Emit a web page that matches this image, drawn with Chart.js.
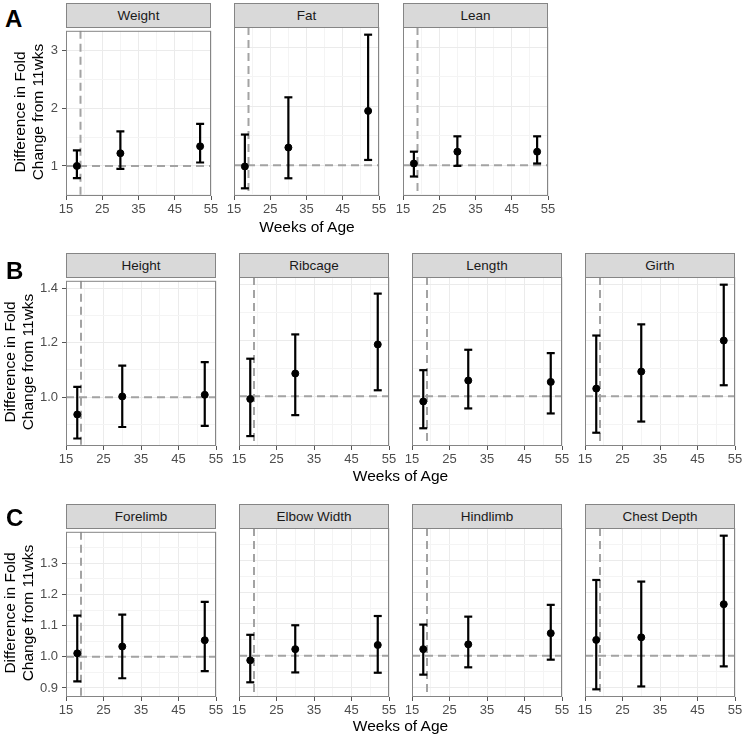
<!DOCTYPE html>
<html>
<head>
<meta charset="utf-8">
<script src="https://cdn.jsdelivr.net/npm/chart.js"></script>
<style>
body { margin: 0; background: #fff; font-family: "Liberation Sans", Arial, sans-serif; }
#wrap { position: relative; width: 744px; height: 739px; overflow: hidden; }
canvas, .strip, .lab, .ytitle, .xtitle { position: absolute; }
.strip { background: #d9d9d9; border: 1px solid #858585; box-sizing: border-box; font-size: 13.5px; color: #1a1a1a;
  display: flex; align-items: center; justify-content: center; }
.lab { font-weight: bold; font-size: 24px; line-height: 23px; color: #000; }
.xtitle { font-size: 15.5px; line-height: 18px; width: 200px; text-align: center; color: #000; }
.ytitle { font-size: 15.5px; line-height: 18px; width: 220px; text-align: center; color: #000;
  transform: translate(-50%, -50%) rotate(-90deg); }
</style>
</head>
<body>
<div id="wrap"></div>
<script>
// data
const weeks = [18, 30, 52];
const xTicks = [15, 25, 35, 45, 55];
const refWeek = 19;
const refFold = 1;

const panelsA = ["Weight", "Fat", "Lean"];
const meanA = [[1.00, 1.22, 1.34], [0.98, 1.30, 1.92], [1.03, 1.23, 1.23]];
const lowA  = [[0.79, 0.95, 1.06], [0.61, 0.78, 1.09], [0.81, 0.99, 1.03]];
const highA = [[1.27, 1.60, 1.73], [1.52, 2.15, 3.21], [1.23, 1.49, 1.49]];
const yTicksA = [1, 2, 3];

const panelsB = ["Height", "Ribcage", "Length", "Girth"];
const meanB = [[0.937, 1.003, 1.009], [0.990, 1.081, 1.185], [0.981, 1.056, 1.051], [1.027, 1.088, 1.199]];
const lowB  = [[0.849, 0.891, 0.895], [0.857, 0.932, 1.021], [0.885, 0.956, 0.938], [0.869, 0.909, 1.039]];
const highB = [[1.038, 1.116, 1.129], [1.134, 1.221, 1.367], [1.093, 1.166, 1.154], [1.217, 1.257, 1.399]];
const yTicksB = [1.0, 1.2, 1.4];

const panelsC = ["Forelimb", "Elbow Width", "Hindlimb", "Chest Depth"];
const meanC = [[1.011, 1.033, 1.053], [0.986, 1.021, 1.034], [1.021, 1.036, 1.071], [1.050, 1.058, 1.162]];
const lowC  = [[0.921, 0.931, 0.954], [0.917, 0.948, 0.947], [0.941, 0.964, 0.988], [0.895, 0.904, 0.967]];
const highC = [[1.132, 1.135, 1.176], [1.066, 1.096, 1.125], [1.098, 1.123, 1.160], [1.238, 1.233, 1.377]];
const yTicksC = [0.9, 1.0, 1.1, 1.2, 1.3];

const FONT = "'Liberation Sans', Arial, sans-serif";
const wrap = document.getElementById("wrap");

// layout of the three rows
const rows = [
  { tag: "A", names: panelsA, mean: meanA, low: lowA, high: highA, yTicks: yTicksA, dec: 0,
    top: 27, h: 169, w: 145, lefts: [66, 234, 403], tagPos: [5, 7], yTitleX: 29, xTitleTop: 218 },
  { tag: "B", names: panelsB, mean: meanB, low: lowB, high: highB, yTicks: yTicksB, dec: 1,
    top: 277, h: 169, w: 150, lefts: [66, 239, 412, 585], tagPos: [6, 259], yTitleX: 18.5, xTitleTop: 467 },
  { tag: "C", names: panelsC, mean: meanC, low: lowC, high: highC, yTicks: yTicksC, dec: 1,
    top: 528, h: 169, w: 150, lefts: [66, 239, 412, 585], tagPos: [6, 506], yTitleX: 18.5, xTitleTop: 716.5 }
];

function near(list, v) {
  return list.some(t => Math.abs(t - v) < 1e-9);
}

// majors plus the half-way minor lines inside [lo, hi]
function gridValues(majors, lo, hi) {
  const step = majors[1] - majors[0];
  const out = [];
  for (let v = majors[0] - step / 2; v <= majors[majors.length - 1] + step / 2 + 1e-9; v += step / 2) {
    const r = Math.round(v * 1000) / 1000;
    if (r >= lo && r <= hi) out.push(r);
  }
  return out;
}

const panelDeco = {
  id: "panelDeco",
  beforeDatasetsDraw(chart) {
    const { ctx, chartArea: a, scales } = chart;
    ctx.save();
    ctx.beginPath();
    ctx.rect(a.left, a.top, a.right - a.left, a.bottom - a.top);
    ctx.clip();
    ctx.strokeStyle = "#a3a3a3";
    ctx.lineWidth = 2;
    ctx.setLineDash([8, 5]);
    const px = scales.x.getPixelForValue(refWeek);
    ctx.beginPath(); ctx.moveTo(px, a.top); ctx.lineTo(px, a.bottom); ctx.stroke();
    const py = scales.y.getPixelForValue(refFold);
    ctx.beginPath(); ctx.moveTo(a.left, py); ctx.lineTo(a.right, py); ctx.stroke();
    ctx.restore();
  },
  afterDraw(chart) {
    const { ctx, chartArea: a } = chart;
    ctx.save();
    ctx.strokeStyle = "#858585";
    ctx.lineWidth = 1;
    ctx.strokeRect(a.left + 0.5, a.top + 0.5, a.right - a.left - 1, a.bottom - a.top - 1);
    ctx.restore();
  }
};

function addDiv(cls, text, css) {
  const d = document.createElement("div");
  d.className = cls;
  d.textContent = text;
  Object.assign(d.style, css);
  wrap.appendChild(d);
  return d;
}

const xGrid = gridValues(xTicks, 15, 55);

rows.forEach(row => {
  // y range like ggplot: data range + 5% each side
  const allLo = Math.min(...row.low.flat());
  const allHi = Math.max(...row.high.flat());
  const pad = (allHi - allLo) * 0.05;
  const yMin = allLo - pad, yMax = allHi + pad;
  const yGrid = gridValues(row.yTicks, yMin, yMax);

  row.names.forEach((name, p) => {
    const first = p === 0;
    const L = first ? 40 : 10, R = 10, T = 8, B = 24;
    const left = row.lefts[p];

    const cv = document.createElement("canvas");
    cv.width = row.w + L + R;
    cv.height = row.h + T + B;
    cv.style.left = (left - L) + "px";
    cv.style.top = (row.top - T) + "px";
    wrap.appendChild(cv);

    addDiv("strip", name, { left: left + "px", top: (row.top - 24) + "px", width: row.w + "px", height: "25px" });

    const bars = [];
    weeks.forEach((w, i) => {
      bars.push({ x: w, y: row.low[p][i] }, { x: w, y: row.high[p][i] }, { x: w, y: null });
    });
    const pts = weeks.map((w, i) => ({ x: w, y: row.mean[p][i] }));

    new Chart(cv, {
      type: "scatter",
      data: {
        datasets: [
          { data: pts, order: 0, pointRadius: 3.5, pointBackgroundColor: "#000", pointBorderColor: "#000", pointBorderWidth: 1 },
          { data: bars, order: 1, showLine: true, spanGaps: false, borderColor: "#000", borderWidth: 2.2,
            pointStyle: "line", pointRadius: 4, pointBorderWidth: 2.2, pointBorderColor: "#000" }
        ]
      },
      options: {
        responsive: false,
        animation: false,
        events: [],
        layout: { padding: { top: T, right: R, left: 0, bottom: 0 } },
        plugins: { legend: { display: false }, tooltip: { enabled: false } },
        scales: {
          x: {
            type: "linear", min: 15, max: 55,
            afterBuildTicks: s => { s.ticks = xGrid.map(v => ({ value: v })); },
            afterFit: s => { s.height = B; },
            border: { display: false },
            grid: {
              color: c => near(xTicks, c.tick.value) ? "#ebebeb" : "#f4f4f4",
              lineWidth: 1, tickLength: 4, tickWidth: 1,
              tickColor: c => near(xTicks, c.tick.value) ? "#555" : "rgba(0,0,0,0)"
            },
            ticks: {
              autoSkip: false, maxRotation: 0, padding: 2, color: "#4d4d4d",
              font: { size: 13, family: FONT },
              callback: v => near(xTicks, v) ? String(v) : ""
            }
          },
          y: {
            type: "linear", min: yMin, max: yMax,
            afterBuildTicks: s => { s.ticks = yGrid.map(v => ({ value: v })); },
            afterFit: s => { s.width = L; },
            border: { display: false },
            grid: {
              color: c => near(row.yTicks, c.tick.value) ? "#ebebeb" : "#f4f4f4",
              lineWidth: 1, drawTicks: first, tickLength: 4, tickWidth: 1,
              tickColor: c => near(row.yTicks, c.tick.value) ? "#555" : "rgba(0,0,0,0)"
            },
            ticks: {
              display: first, autoSkip: false, padding: 4, color: "#4d4d4d",
              font: { size: 13, family: FONT },
              callback: v => near(row.yTicks, v) ? v.toFixed(row.dec) : ""
            }
          }
        }
      },
      plugins: [panelDeco]
    });
  });

  const l = row.lefts, rightEdge = l[l.length - 1] + row.w;
  addDiv("lab", row.tag, { left: row.tagPos[0] + "px", top: row.tagPos[1] + "px" });
  addDiv("xtitle", "Weeks of Age", { left: ((l[0] + rightEdge) / 2 - 100) + "px", top: row.xTitleTop + "px" });
  const yt = addDiv("ytitle", "", { left: row.yTitleX + "px", top: (row.top + row.h / 2) + "px" });
  yt.innerHTML = "Difference in Fold<br>Change from 11wks";
});
</script>
</body>
</html>
